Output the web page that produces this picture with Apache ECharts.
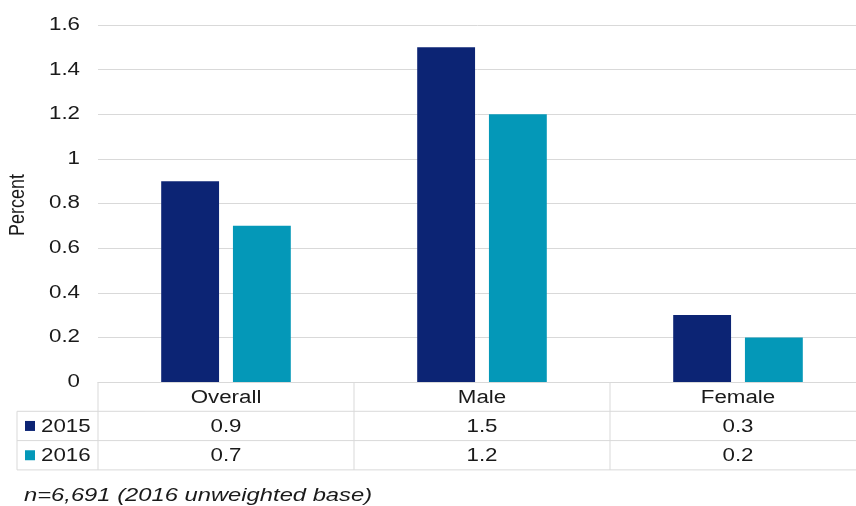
<!DOCTYPE html>
<html>
<head>
<meta charset="utf-8">
<script src="https://cdn.jsdelivr.net/npm/echarts@6/dist/echarts.min.js"></script>
<style>
html, body { margin: 0; padding: 0; background: #fff; }
#chart { width: 856px; height: 506px; }
</style>
</head>
<body>
<div id="chart"></div>
<script>
// Chart data
const categories = ['Overall', 'Male', 'Female'];
const seriesNames = ['2015', '2016'];
const values2015 = [0.9, 1.5, 0.3];
const values2016 = [0.7, 1.2, 0.2];
const yTickLabels = ['0', '0.2', '0.4', '0.6', '0.8', '1', '1.2', '1.4', '1.6'];
const yAxisTitle = 'Percent';
const footnote = 'n=6,691 (2016 unweighted base)';

const seriesValues = [values2015, values2016];
const yTickValues = yTickLabels.map(Number);
const seriesColors = ['#0c2474', '#0498b8'];
const FONT = '"Liberation Sans", Arial, sans-serif';
const TEXT = '#1a1a1a';
const LINE = '#d9d9d9';
const WIDE = 1.24; // horizontal stretch of the wide lettering

const chart = echarts.init(document.getElementById('chart'), null, { renderer: 'canvas' });

chart.setOption({
  animation: false,
  grid: { left: 98, width: 768, top: 25, bottom: 124, containLabel: false, outerBoundsMode: 'none' },
  xAxis: {
    type: 'category',
    data: categories,
    axisLine: { show: true, lineStyle: { color: LINE } },
    axisTick: { show: false },
    axisLabel: { show: false },
    splitLine: { show: false }
  },
  yAxis: {
    type: 'value',
    min: yTickValues[0],
    max: yTickValues[yTickValues.length - 1],
    interval: yTickValues[1] - yTickValues[0],
    axisLine: { show: false },
    axisTick: { show: false },
    axisLabel: { show: false },
    splitLine: { lineStyle: { color: LINE, width: 1 } }
  },
  series: seriesNames.map((name, i) => ({
    name,
    type: 'bar',
    data: seriesValues[i],
    barWidth: '22.6%',
    barGap: '24%',
    itemStyle: { color: seriesColors[i] }
  }))
});

// Stretched text element anchored at (x, y)
function label(x, y, str, opts) {
  opts = opts || {};
  return {
    type: 'text', silent: true, x, y,
    scaleX: opts.scaleX || WIDE,
    scaleY: opts.scaleY || 1,
    rotation: opts.rotation || 0,
    style: {
      x: 0, y: 0, text: str, fill: TEXT,
      font: (opts.italic ? 'italic ' : '') + (opts.size || 18) + 'px ' + FONT,
      align: opts.align || 'center', verticalAlign: 'middle'
    }
  };
}

// Tick labels, data table and captions positioned from the axes
function buildOverlay() {
  const centers = categories.map(c => chart.convertToPixel({ xAxisIndex: 0 }, c));
  const step = centers[1] - centers[0];
  const left = centers[0] - step / 2;
  const right = centers[centers.length - 1] + step / 2;
  const y0 = chart.convertToPixel({ yAxisIndex: 0 }, 0);
  const rowH = 29.3;
  const legendLeft = 17;
  const els = [];
  const line = (x1, y1, x2, y2) => els.push({
    type: 'line', silent: true,
    shape: { x1, y1, x2, y2 },
    style: { stroke: LINE, lineWidth: 1 }
  });

  // y tick labels
  yTickLabels.forEach((t, i) => {
    const y = chart.convertToPixel({ yAxisIndex: 0 }, yTickValues[i]);
    els.push(label(80, y, t, { align: 'right' }));
  });

  // table rules
  for (let r = 1; r <= 3; r++) line(legendLeft, y0 + rowH * r, right, y0 + rowH * r);
  line(legendLeft, y0 + rowH, legendLeft, y0 + rowH * 3);
  for (let i = 0; i <= categories.length; i++) {
    const x = left + step * i;
    line(x, y0, x, y0 + rowH * 3);
  }
  // header row
  categories.forEach((c, i) => els.push(label(centers[i], y0 + rowH / 2 + 1, c)));
  // value rows with legend keys
  seriesNames.forEach((name, r) => {
    const cy = y0 + rowH * (r + 1.5);
    els.push({ type: 'rect', silent: true, shape: { x: 25, y: cy - 5, width: 10, height: 10 }, style: { fill: seriesColors[r] } });
    els.push(label(41, cy + 1, name, { align: 'left' }));
    seriesValues[r].forEach((v, i) => els.push(label(centers[i], cy + 1, v.toFixed(1))));
  });
  // axis title
  els.push(label(18, 205, yAxisTitle, { rotation: Math.PI / 2, scaleX: 1, scaleY: WIDE }));
  // base note
  els.push(label(24, 496, footnote, { italic: true, align: 'left', scaleX: 1.32 }));

  chart.setOption({ graphic: { elements: els } });
}
buildOverlay();
</script>
</body>
</html>
